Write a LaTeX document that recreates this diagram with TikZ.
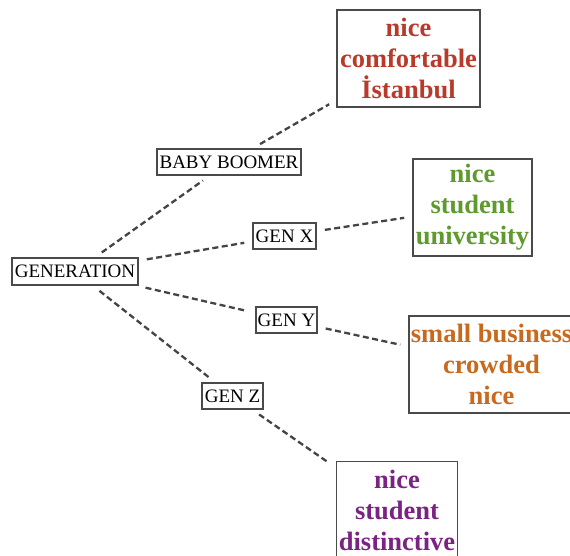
\documentclass[tikz,border=0pt]{standalone}
\usepackage{fontspec}
\setmainfont{Liberation Serif}
\definecolor{edgegray}{HTML}{444444}
\definecolor{boxgray}{HTML}{4A4A4A}
\definecolor{cred}{HTML}{B93A2B}
\definecolor{cgreen}{HTML}{5E9A2E}
\definecolor{corange}{HTML}{C8691E}
\definecolor{cpurple}{HTML}{7B2382}
\begin{document}
\begin{tikzpicture}[x=1pt,y=-1pt,
  smallbox/.style={draw=boxgray, line width=1.8pt, inner sep=0pt, minimum height=26pt,
     font=\fontsize{19}{20}\selectfont, text=black},
  bigbox/.style={draw=boxgray, line width=1.8pt, inner sep=0pt, minimum height=97pt,
     align=center, font=\bfseries\fontsize{26.5}{31}\selectfont},
  link/.style={draw=edgegray, line width=2.3pt, dash pattern=on 6pt off 3.5pt,
     shorten <=8pt, shorten >=8pt}]
\useasboundingbox (0,0) rectangle (570,556);
\clip (0,0) rectangle (570,556);
\fill[white] (0,0) rectangle (570,556);

\node[smallbox, minimum width=126pt, minimum height=27pt] (gen) at (75,271.5) {GENERATION};
\node[smallbox, minimum width=144pt] (bb) at (229,162) {BABY BOOMER};
\node[smallbox, minimum width=63pt] (gx) at (284.5,236) {GEN X};
\node[smallbox, minimum width=61pt] (gy) at (286.5,320) {GEN Y};
\node[smallbox, minimum width=61pt] (gz) at (232.5,396) {GEN Z};

\node[bigbox, text=cred, minimum width=143pt] (rb) at (408.5,58.5) {nice\\comfortable\\İstanbul};
\node[bigbox, text=cgreen, minimum width=119pt] (gb) at (472.5,207.5) {nice\\student\\university};
\node[bigbox, text=corange, minimum width=165pt] (ob) at (491.5,364.5) {small business\\crowded\\nice};
\node[bigbox, text=cpurple, minimum width=121pt] (pb) at (397,510) {nice\\student\\distinctive};

\draw[link] (gen) -- (bb);
\draw[link] (gen) -- (gx);
\draw[link] (gen) -- (gy);
\draw[link] (gen) -- (gz);
\draw[link] (bb) -- (rb);
\draw[link] (gx) -- (gb);
\draw[link] (gy) -- (ob);
\draw[link] (gz) -- (pb);
\end{tikzpicture}
\end{document}
